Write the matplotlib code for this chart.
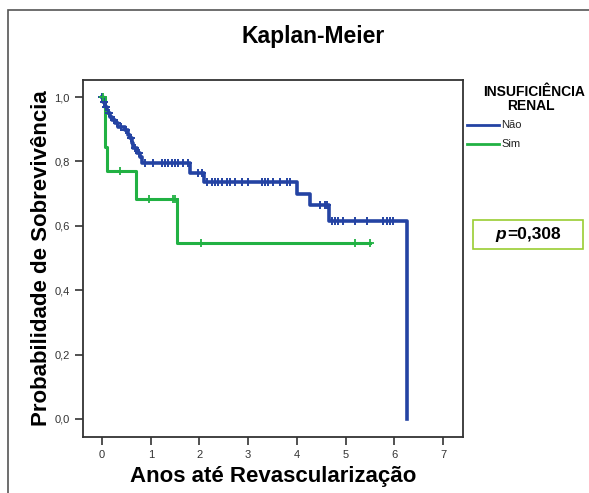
import numpy as np
import matplotlib.pyplot as plt
from matplotlib.patches import Rectangle

plt.rcParams['font.family'] = ['Liberation Sans', 'DejaVu Sans']

# grupo "Não" (sem insuficiencia renal)
nao_t = [0, 0.02, 0.06, 0.10, 0.16, 0.21, 0.27, 0.33, 0.47, 0.53, 0.57, 0.62,
         0.64, 0.72, 0.78, 0.82, 1.80, 2.10, 4.00, 4.27, 4.66, 6.26]
nao_s = [1.0, 0.985, 0.97, 0.95, 0.938, 0.929, 0.919, 0.907, 0.897, 0.882, 0.873,
         0.857, 0.842, 0.826, 0.814, 0.795, 0.764, 0.736, 0.700, 0.665, 0.615, 0.0]
nao_cens = [0.0, 0.04, 0.09, 0.14, 0.24, 0.30, 0.38, 0.50, 0.60, 0.68, 0.75,
            0.88, 1.05, 1.23, 1.29, 1.36, 1.44, 1.50, 1.56, 1.67, 1.77,
            1.97, 2.05, 2.16, 2.26, 2.32, 2.38, 2.46, 2.57, 2.63, 2.73, 2.87,
            3.00, 3.29, 3.35, 3.41, 3.51, 3.66, 3.80, 3.86, 4.48, 4.58, 4.62,
            4.72, 4.78, 4.85, 4.95, 5.20, 5.44, 5.77, 5.85, 5.91, 5.98]
nao_fim = 6.26

# grupo "Sim"
sim_t = [0, 0.06, 0.10, 0.70, 1.54]
sim_s = [1.0, 0.846, 0.769, 0.683, 0.547]
sim_cens = [0.02, 0.37, 0.97, 1.46, 1.50, 2.03, 5.20, 5.50]
sim_fim = 5.50

azul = '#2443a3'
verde = '#21b143'


def km_at(ts, ss, t):
    i = np.searchsorted(ts, t, side='right') - 1
    return np.array(ss)[i]


fig = plt.figure(figsize=(5.89, 4.93), dpi=100)
ax = fig.add_axes([0.141, 0.1136, 0.645, 0.7241])

# moldura externa
fig.patches.append(Rectangle((8 / 589, -0.1), 1.2, 1 - 10 / 493 + 0.1,
                             transform=fig.transFigure, fill=False,
                             edgecolor='#555555', linewidth=1.2))

ax.step(nao_t + [nao_fim], nao_s + [nao_s[-1]], where='post', color=azul, lw=2.6)
ax.step(sim_t + [sim_fim], sim_s + [sim_s[-1]], where='post', color=verde, lw=2.2)
ax.plot(nao_cens, km_at(nao_t, nao_s, nao_cens), '+', color=azul, ms=6, mew=1.4)
ax.plot(sim_cens, km_at(sim_t, sim_s, sim_cens), '+', color=verde, ms=6, mew=1.3)

ax.set_xlim(-0.39, 7.41)
ax.set_ylim(-0.056, 1.053)
ax.set_xticks(range(8))
ax.set_yticks([0, 0.2, 0.4, 0.6, 0.8, 1.0])
ax.set_yticklabels(['0,0', '0,2', '0,4', '0,6', '0,8', '1,0'])
ax.tick_params(direction='out', length=6, width=1.2, labelsize=8,
               colors='#333333', labelcolor='#333333')
for s in ax.spines.values():
    s.set_color('#333333')
    s.set_linewidth(1.3)

ax.set_xlabel('Anos até Revascularização', fontsize=16, fontweight='bold', labelpad=4)
ax.set_ylabel('Probabilidade de Sobrevivência', fontsize=16, fontweight='bold', labelpad=2)
fig.text(0.532, 1 - 37 / 493, 'Kaplan-Meier', fontsize=16.5, fontweight='bold',
         ha='center', va='center')

# legenda
fig.text(534 / 589, 1 - 92 / 493, 'INSUFICIÊNCIA', fontsize=10, fontweight='bold',
         ha='center', va='center')
fig.text(531 / 589, 1 - 106 / 493, 'RENAL', fontsize=10, fontweight='bold',
         ha='center', va='center')
for nome, cor, yy in [('Não', azul, 125), ('Sim', verde, 144)]:
    fig.add_artist(plt.Line2D([467 / 589, 499 / 589], [1 - yy / 493] * 2,
                              color=cor, lw=2, transform=fig.transFigure))
    fig.text(501 / 589, 1 - yy / 493, nome, fontsize=8, color='#222222',
             ha='left', va='center')

# caixa do valor p
fig.patches.append(Rectangle((473 / 589, 1 - 249 / 493), 110 / 589, 29 / 493,
                             transform=fig.transFigure, fill=False,
                             edgecolor='#9acd32', linewidth=1.2))
fig.text(506 / 589, 1 - 234 / 493, 'p', fontsize=12.5, fontweight='bold',
         fontstyle='italic', ha='right', va='center')
fig.text(507 / 589, 1 - 234 / 493, '=0,308', fontsize=12.5, fontweight='bold',
         ha='left', va='center')

fig.savefig('out.png', dpi=100)
